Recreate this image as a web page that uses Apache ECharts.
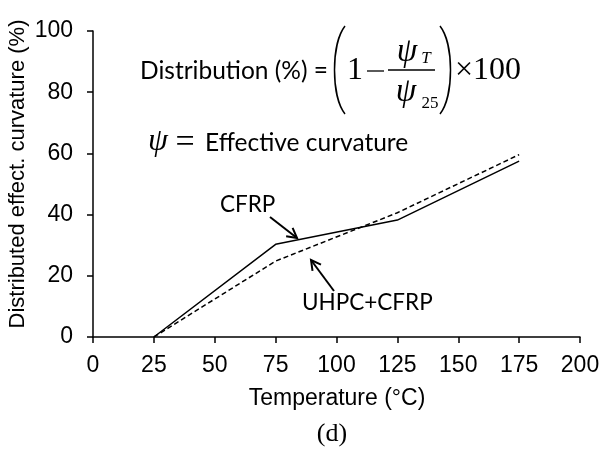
<!DOCTYPE html>
<html>
<head>
<meta charset="utf-8">
<script src="https://cdn.jsdelivr.net/npm/echarts@6/dist/echarts.min.js"></script>
<style>html,body{margin:0;padding:0;background:#fff;}#c{width:607px;height:453px;}</style>
</head>
<body>
<div id="c"></div>
<script>
var temperatures = [25, 75, 125, 175];
var cfrp = [0, 30.3, 38.2, 57.5];
var uhpcCfrp = [0, 24.8, 40.6, 59.6];
var xTicks = [0, 25, 50, 75, 100, 125, 150, 175, 200];
var yTicks = [0, 20, 40, 60, 80, 100];

function pairs(xs, ys) { return xs.map(function (x, i) { return [x, ys[i]]; }); }

var chart = echarts.init(document.getElementById('c'), null, {renderer: 'canvas'});
var axisFont = '"Liberation Sans", Arial, sans-serif';
var noteFont = 'Lato, "Open Sans", sans-serif';
var serif = '"Liberation Serif", "Times New Roman", serif';

function arrow(x1, y1, x2, y2) {
  var a = Math.atan2(y2 - y1, x2 - x1), L = 11, s = 0.5;
  return [
    {type: 'line', shape: {x1: x1, y1: y1, x2: x2, y2: y2}, style: {stroke: '#000', lineWidth: 2}},
    {type: 'polyline', shape: {points: [
      [x2 - L * Math.cos(a - s), y2 - L * Math.sin(a - s)], [x2, y2],
      [x2 - L * Math.cos(a + s), y2 - L * Math.sin(a + s)]]},
      style: {stroke: '#000', lineWidth: 2, fill: null}}
  ];
}

var graphics = [
  {type: 'text', x: 18, y: 174, rotation: Math.PI / 2, style: {text: 'Distributed effect. curvature (%)', font: '22px ' + axisFont, fill: '#000', textAlign: 'center', textVerticalAlign: 'middle'}},
  {type: 'text', x: 337, y: 399, style: {text: 'Temperature (\u00B0C)', font: '23px ' + axisFont, fill: '#000', textAlign: 'center', textVerticalAlign: 'middle'}},
  {type: 'text', x: 332, y: 434, style: {text: '(d)', font: '26px ' + serif, fill: '#000', textAlign: 'center', textVerticalAlign: 'middle'}},
  {type: 'text', x: 140, y: 71, style: {text: 'Distribution (%) =', font: '24.5px ' + noteFont, fill: '#000', textAlign: 'left', textVerticalAlign: 'middle'}},
  {type: 'bezierCurve', shape: {x1: 345, y1: 26, x2: 345, y2: 114, cpx1: 331, cpy1: 44, cpx2: 331, cpy2: 96}, style: {stroke: '#000', lineWidth: 1.5, fill: null}},
  {type: 'bezierCurve', shape: {x1: 440, y1: 26, x2: 440, y2: 114, cpx1: 454, cpy1: 44, cpx2: 454, cpy2: 96}, style: {stroke: '#000', lineWidth: 1.5, fill: null}},
  {type: 'text', x: 355, y: 71, style: {text: '1', font: '32px ' + serif, fill: '#000', textAlign: 'center', textVerticalAlign: 'middle'}},
  {type: 'line', shape: {x1: 367, y1: 71, x2: 384, y2: 71}, style: {stroke: '#000', lineWidth: 1.3}},
  {type: 'line', shape: {x1: 388, y1: 70, x2: 435, y2: 70}, style: {stroke: '#000', lineWidth: 1.3}},
  {type: 'text', x: 407, y: 52, style: {text: '\u03C8', font: 'italic 33px ' + serif, fill: '#000', textAlign: 'center', textVerticalAlign: 'middle'}},
  {type: 'text', x: 426, y: 59, style: {text: 'T', font: 'italic 17px ' + serif, fill: '#000', textAlign: 'center', textVerticalAlign: 'middle'}},
  {type: 'text', x: 406, y: 92, style: {text: '\u03C8', font: 'italic 33px ' + serif, fill: '#000', textAlign: 'center', textVerticalAlign: 'middle'}},
  {type: 'text', x: 430, y: 104, style: {text: '25', font: '17px ' + serif, fill: '#000', textAlign: 'center', textVerticalAlign: 'middle'}},
  {type: 'text', x: 455, y: 71, style: {text: '\u00D7100', font: '32px ' + serif, fill: '#000', textAlign: 'left', textVerticalAlign: 'middle'}},
  {type: 'text', x: 158, y: 142, style: {text: '\u03C8', font: 'italic 32px ' + serif, fill: '#000', textAlign: 'center', textVerticalAlign: 'middle'}},
  {type: 'text', x: 185, y: 143, style: {text: '=', font: '34px ' + serif, fill: '#000', textAlign: 'center', textVerticalAlign: 'middle'}},
  {type: 'text', x: 205, y: 143, style: {text: 'Effective curvature', font: '24.5px ' + noteFont, fill: '#000', textAlign: 'left', textVerticalAlign: 'middle'}},
  {type: 'text', x: 220, y: 205, style: {text: 'CFRP', font: '22.5px ' + noteFont, fill: '#000', textAlign: 'left', textVerticalAlign: 'middle'}},
  {type: 'text', x: 302, y: 303, style: {text: 'UHPC+CFRP', font: '22.5px ' + noteFont, fill: '#000', textAlign: 'left', textVerticalAlign: 'middle'}}
].concat(arrow(270, 217, 297, 238)).concat(arrow(334, 291, 311, 260));

chart.setOption({
  backgroundColor: '#fff',
  animation: false,
  grid: {left: 93, right: 27, top: 31, bottom: 116, containLabel: false},
  xAxis: {
    type: 'value', min: xTicks[0], max: xTicks[xTicks.length - 1], interval: 25,
    axisLine: {show: true, lineStyle: {color: '#000', width: 1.5}},
    axisTick: {show: true, length: 6, lineStyle: {color: '#000', width: 1.5}},
    axisLabel: {color: '#000', fontSize: 23, fontFamily: axisFont, margin: 17},
    splitLine: {show: false}
  },
  yAxis: {
    type: 'value', min: yTicks[0], max: yTicks[yTicks.length - 1], interval: 20,
    axisLine: {show: true, lineStyle: {color: '#000', width: 1.5}},
    axisTick: {show: true, length: 6, lineStyle: {color: '#000', width: 1.5}},
    axisLabel: {color: '#000', fontSize: 23, fontFamily: axisFont, margin: 20},
    splitLine: {show: false}
  },
  series: [
    {name: 'CFRP', type: 'line', data: pairs(temperatures, cfrp), showSymbol: false, symbol: 'none',
     lineStyle: {color: '#000', width: 1.5, type: 'solid'}},
    {name: 'UHPC+CFRP', type: 'line', data: pairs(temperatures, uhpcCfrp), showSymbol: false, symbol: 'none',
     lineStyle: {color: '#000', width: 1.5, type: [5, 3]}}
  ],
  graphic: graphics
});
</script>
</body>
</html>
